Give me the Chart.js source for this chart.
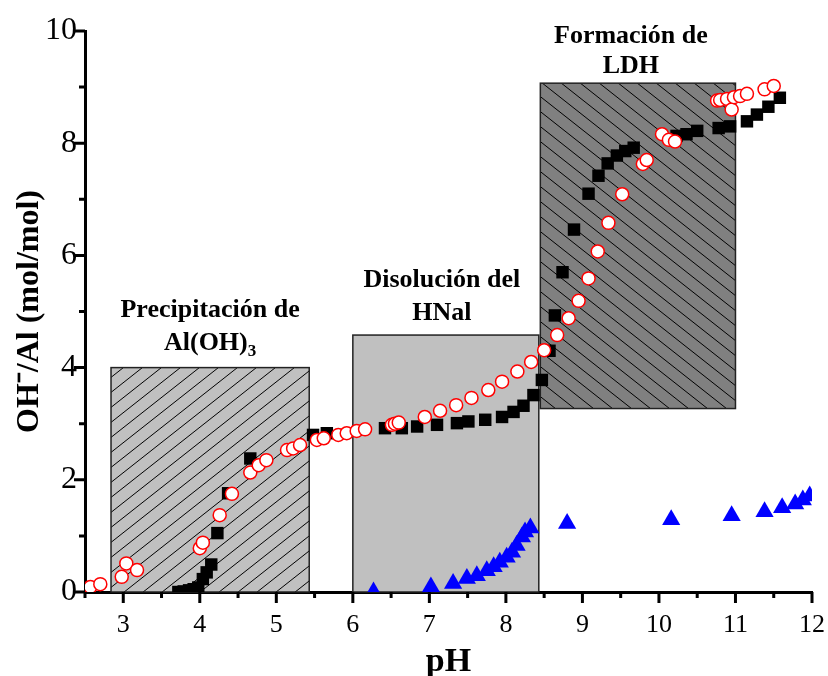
<!DOCTYPE html>
<html><head><meta charset="utf-8">
<script src="https://cdn.jsdelivr.net/npm/chart.js@4/dist/chart.umd.min.js"></script>
<style>html,body{margin:0;padding:0;background:#fff}#wrap{width:828px;height:676px;position:relative}</style>
</head><body><div id="wrap"><canvas id="c" width="828" height="676"></canvas></div>
<script>
// ---------- data ----------
const xTicks = [3, 4, 5, 6, 7, 8, 9, 10, 11, 12];
const yTicks = [0, 2, 4, 6, 8, 10];

// black squares
const squarePH    = [3.72,3.79,3.86,3.92,3.98,4.04,4.09,4.15,4.23,4.37,4.66,5.48,5.66,6.42,6.64,6.84,7.10,7.36,7.51,7.73,7.95,8.10,8.23,8.36,8.47,8.57,8.64,8.74,8.89,9.08,9.21,9.33,9.45,9.56,9.67,10.23,10.36,10.50,10.78,10.93,11.15,11.28,11.43,11.58];
const squareRatio = [0.00,0.01,0.03,0.05,0.08,0.23,0.35,0.49,1.05,1.76,2.38,2.80,2.83,2.92,2.92,2.95,2.98,3.01,3.04,3.07,3.12,3.21,3.32,3.51,3.78,4.30,4.93,5.70,6.46,7.10,7.42,7.64,7.78,7.86,7.92,8.13,8.16,8.22,8.27,8.30,8.39,8.51,8.65,8.81];

// open red circles
const circlePH    = [2.57,2.70,2.98,3.04,3.18,4.00,4.04,4.26,4.42,4.66,4.77,4.87,5.14,5.22,5.31,5.53,5.62,5.81,5.92,6.05,6.16,6.51,6.55,6.60,6.94,7.14,7.35,7.55,7.77,7.95,8.15,8.33,8.50,8.67,8.82,8.95,9.08,9.20,9.34,9.52,9.79,9.84,10.04,10.13,10.21,10.76,10.80,10.89,10.95,10.98,11.06,11.15,11.38,11.50];
const circleRatio = [0.09,0.14,0.27,0.51,0.39,0.78,0.88,1.37,1.75,2.13,2.26,2.35,2.53,2.56,2.62,2.71,2.74,2.80,2.83,2.87,2.90,2.98,3.00,3.02,3.12,3.23,3.33,3.46,3.60,3.75,3.93,4.10,4.31,4.58,4.88,5.19,5.59,6.07,6.58,7.09,7.63,7.70,8.16,8.06,8.03,8.76,8.77,8.79,8.60,8.82,8.84,8.88,8.96,9.02];

// blue triangles
const trianglePH    = [6.27,7.02,7.31,7.49,7.62,7.75,7.84,7.92,8.01,8.08,8.14,8.21,8.25,8.32,8.80,10.16,10.95,11.38,11.61,11.78,11.88,11.97];
const triangleRatio = [0.00,0.09,0.15,0.24,0.29,0.38,0.45,0.53,0.62,0.71,0.83,0.98,1.07,1.14,1.22,1.29,1.36,1.43,1.50,1.57,1.64,1.71];

// shaded regions (pH range, ratio range) and their captions
const regionPH    = [[2.84, 5.43], [6.00, 8.43], [8.45, 11.00]];
const regionRatio = [[0, 4.00], [0, 4.58], [3.27, 9.07]];
const regionLine1 = ['Precipitación de', 'Disolución del', 'Formación de'];
const regionLine2 = ['Al(OH)', 'HNal', 'LDH'];
const regionSub   = ['3', '', ''];

// ---------- styling ----------
const SERIF = "'Liberation Serif', 'Times New Roman', serif";
const regionFill  = ['#c0c0c0', '#c0c0c0', '#808080'];
const regionHatch = [1, 0, -1];
const captionOffsets = [[0, -57, -24], [-4, -55, -22], [-7, -47, -17]];

function hatch(bg, dir) {
  const w = 19, h = 15;
  const c = document.createElement('canvas'); c.width = w; c.height = h;
  const g = c.getContext('2d');
  g.fillStyle = bg; g.fillRect(0, 0, w, h);
  if (dir !== 0) {
    g.strokeStyle = '#000'; g.lineWidth = 1;
    g.beginPath();
    for (let k = -1; k <= 1; k++) {
      if (dir > 0) { g.moveTo(-w, 2 * h + k * h); g.lineTo(2 * w, -h + k * h); }
      else { g.moveTo(-w, -h + k * h); g.lineTo(2 * w, 2 * h + k * h); }
    }
    g.stroke();
  }
  return c;
}

function zip(xs, ys) { return xs.map((x, i) => ({ x: x, y: ys[i] })); }

const regionsPlugin = {
  id: 'regions',
  beforeDatasetsDraw(chart) {
    const ctx = chart.ctx, xs = chart.scales.x, ys = chart.scales.y;
    ctx.save();
    regionPH.forEach((r, i) => {
      const x0 = xs.getPixelForValue(r[0]), x1 = xs.getPixelForValue(r[1]);
      const y0 = ys.getPixelForValue(regionRatio[i][1]), y1 = ys.getPixelForValue(regionRatio[i][0]);
      ctx.fillStyle = ctx.createPattern(hatch(regionFill[i], regionHatch[i]), 'repeat');
      ctx.fillRect(x0, y0, x1 - x0, y1 - y0);
      ctx.strokeStyle = '#222'; ctx.lineWidth = 1.5;
      ctx.strokeRect(x0, y0, x1 - x0, y1 - y0);
      // captions
      const off = captionOffsets[i];
      const cx = (x0 + x1) / 2 + off[0];
      ctx.fillStyle = '#000';
      ctx.textAlign = 'center'; ctx.textBaseline = 'middle';
      ctx.font = 'bold 26px ' + SERIF;
      ctx.fillText(regionLine1[i], cx, y0 + off[1]);
      if (regionSub[i]) {
        const mainW = ctx.measureText(regionLine2[i]).width;
        ctx.font = 'bold 17px ' + SERIF;
        const subW = ctx.measureText(regionSub[i]).width;
        const start = cx - (mainW + subW) / 2;
        ctx.font = 'bold 26px ' + SERIF;
        ctx.textAlign = 'left';
        ctx.fillText(regionLine2[i], start, y0 + off[2]);
        ctx.font = 'bold 17px ' + SERIF;
        ctx.fillText(regionSub[i], start + mainW, y0 + off[2] + 8);
      } else {
        ctx.fillText(regionLine2[i], cx, y0 + off[2]);
      }
    });
    ctx.restore();
  },
  afterDraw(chart) {
    // tick marks (major & minor) on both axes
    const ctx = chart.ctx, xs = chart.scales.x, ys = chart.scales.y, a = chart.chartArea;
    ctx.save();
    ctx.strokeStyle = '#000'; ctx.lineWidth = 3; ctx.lineCap = 'butt';
    ctx.beginPath();
    for (let v = 2.5; v <= 12.001; v += 0.5) {
      const p = xs.getPixelForValue(v);
      const major = Math.abs(v - Math.round(v)) < 1e-6;
      ctx.moveTo(p, a.bottom); ctx.lineTo(p, a.bottom + (major ? 11 : 6));
    }
    for (let v = 0; v <= 10.001; v += 1) {
      const p = ys.getPixelForValue(v);
      const major = v % 2 === 0;
      ctx.moveTo(a.left, p); ctx.lineTo(a.left - (major ? 11 : 6), p);
    }
    ctx.stroke();
    ctx.restore();
  }
};

new Chart(document.getElementById('c'), {
  type: 'scatter',
  data: {
    datasets: [
      { label: 'circles', data: zip(circlePH, circleRatio), pointStyle: 'circle', pointRadius: 6.5,
        backgroundColor: '#ffffff', borderColor: '#ff0000', borderWidth: 1.5, order: 0, clip: 0 },
      { label: 'squares', data: zip(squarePH, squareRatio), pointStyle: 'rect', pointRadius: 8.8,
        backgroundColor: '#000000', borderColor: '#000000', borderWidth: 0, order: 1, clip: 0 },
      { label: 'triangles', data: zip(trianglePH, triangleRatio), pointStyle: 'triangle', pointRadius: 10.5,
        backgroundColor: '#0000ff', borderColor: '#0000ff', borderWidth: 0, order: 2, clip: 0 }
    ]
  },
  options: {
    responsive: false, animation: false, devicePixelRatio: 1,
    layout: { padding: { top: 31, right: 16, left: 0, bottom: 0 } },
    plugins: { legend: { display: false }, tooltip: { enabled: false } },
    elements: { point: { hoverRadius: 0 } },
    scales: {
      x: {
        type: 'linear', min: 2.5, max: 12, position: 'bottom',
        afterBuildTicks: s => { s.ticks = xTicks.map(v => ({ value: v })); },
        afterFit: s => { s.height = 84; s.paddingLeft = 0; s.paddingRight = 0; },
        grid: { display: false, drawTicks: false, tickLength: 0 },
        border: { display: true, width: 3, color: '#000' },
        ticks: { color: '#000', font: { family: SERIF, size: 26 }, padding: 18, maxRotation: 0, autoSkip: false },
        title: { display: true, text: 'pH', color: '#000', font: { family: SERIF, size: 34, weight: 'bold' }, padding: { top: 0, bottom: -7 } }
      },
      y: {
        type: 'linear', min: 0, max: 10, position: 'left',
        afterBuildTicks: s => { s.ticks = yTicks.map(v => ({ value: v })); },
        afterFit: s => { s.width = 85; s.paddingTop = 0; s.paddingBottom = 0; },
        grid: { display: false, drawTicks: false, tickLength: 0 },
        border: { display: true, width: 3, color: '#000' },
        ticks: { color: '#000', font: { family: SERIF, size: 32 }, padding: 8, autoSkip: false },
        title: { display: true, text: 'OH\u207B/Al (mol/mol)', color: '#000', font: { family: SERIF, size: 32, weight: 'bold' }, padding: { top: 11, bottom: 0 } }
      }
    }
  },
  plugins: [regionsPlugin]
});
</script>
</body></html>
